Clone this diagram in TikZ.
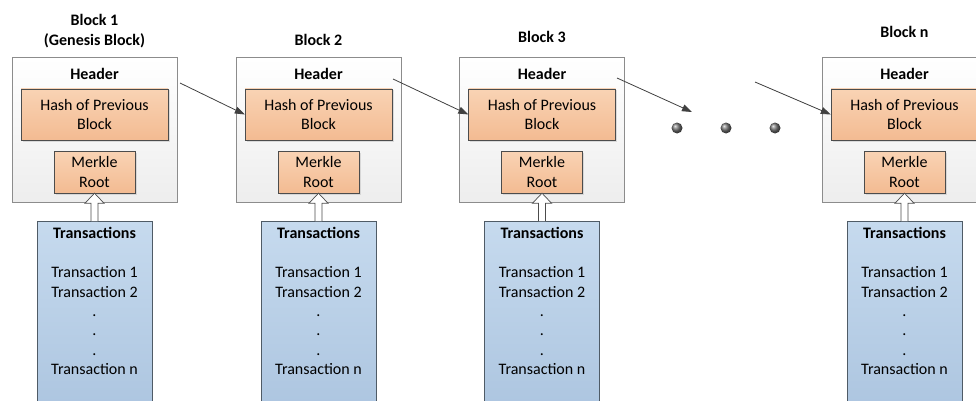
\documentclass[tikz,border=0pt]{standalone}
\usepackage{fontspec}
\setmainfont{Carlito}
\usetikzlibrary{arrows.meta, positioning, shadows}
\usepackage{xcolor}

\definecolor{hashtop}{HTML}{F9D3B4}
\definecolor{hashbot}{HTML}{F3BB92}
\definecolor{txtop}{HTML}{C6DAEE}
\definecolor{txbot}{HTML}{ABC4DF}
\definecolor{txline}{HTML}{4F5B66}
\newcommand{\chainfont}{\fontsize{16}{19.4}\selectfont}

\tikzset{
    blockbox/.style={draw=black!45, top color=white, bottom color=black!7,
        minimum width=165, minimum height=145, inner sep=0pt},
    hashbox/.style={draw=black!70, top color=hashtop, bottom color=hashbot,
        drop shadow={shadow xshift=1.5pt, shadow yshift=-1.5pt, fill=black!25},
        align=center, minimum width=147, minimum height=51, inner sep=0pt},
    merklebox/.style={hashbox, minimum width=81, minimum height=42},
    txbox/.style={draw=txline, top color=txtop, bottom color=txbot,
        minimum width=115, minimum height=200, inner sep=0pt},
    titletext/.style={font=\chainfont\bfseries, align=center},
    listtext/.style={font=\chainfont, align=center, inner sep=0pt},
    feedarrow/.style={draw=black!70, fill=white, line width=0.7pt, line join=miter},
    link/.style={draw=black!75, line width=0.8pt, -{Triangle[length=10pt, width=7pt]}},
    gapdot/.style={circle, minimum size=11, inner sep=0pt, ball color=black!55}
}

\begin{document}
\begin{tikzpicture}[x=1pt, y=-1pt, font=\chainfont]
    \useasboundingbox (0,0) rectangle (976,401);
    \clip (0,0) rectangle (976,401);
    \foreach \name/\cx/\ty/\title in {b1/94.5/31/{Block 1\\(Genesis Block)},
            b2/318.5/40/{Block 2}, b3/542/37/{Block 3}, bn/904.5/32/{Block n}} {
        \node[titletext] (\name-title) at (\cx,\ty) {\title};
        \node[blockbox] (\name) at (\cx,129.5) {};
        \node[titletext] (\name-hdr) at (\cx,74) {Header};
        \node[hashbox] (\name-hash) at (\cx,114.5) {Hash of Previous\\Block};
        \node[merklebox] (\name-merkle) at (\cx,172) {Merkle\\Root};
        \node[txbox, anchor=north] (\name-tx) at (\cx,221) {};
        \node[listtext, anchor=north] (\name-list) at (\cx,227.5)
            {\textbf{Transactions}\\[19.4pt] Transaction 1\\ Transaction 2\\ .\\ .\\ .\\ Transaction n};
        % hollow arrow from the transactions up into the merkle root
        \draw[feedarrow] ([xshift=-3.5pt]\name-tx.north)
            -- ([xshift=-3.5pt, yshift=-10pt]\name-merkle.south)
            -- ([xshift=-9.5pt, yshift=-10pt]\name-merkle.south)
            -- (\name-merkle.south)
            -- ([xshift=9.5pt, yshift=-10pt]\name-merkle.south)
            -- ([xshift=3.5pt, yshift=-10pt]\name-merkle.south)
            -- ([xshift=3.5pt]\name-tx.north);
    }
    % the blocks left out between block 3 and block n
    \foreach \i/\x in {1/677, 2/726, 3/775} {
        \node[gapdot] (gap-\i) at (\x,128) {};
    }
    \coordinate (b1-out) at (180,83);
    \coordinate (b2-out) at (393,79);
    \coordinate (b3-out) at (617,78);
    \coordinate (gap-in) at (692,112);
    \coordinate (gap-out) at (755,82);
    \draw[link] (b1-out) -- (b2-hash.west);
    \draw[link] (b2-out) -- (b3-hash.west);
    \draw[link] (b3-out) -- (gap-in);
    \draw[link] (gap-out) -- (bn-hash.west);
\end{tikzpicture}
\end{document}
